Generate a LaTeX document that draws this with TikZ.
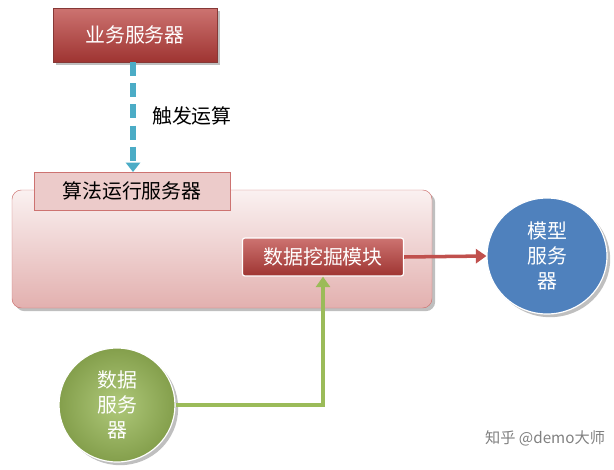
\documentclass[tikz,border=0pt]{standalone}
\usepackage{fontspec}
\setmainfont{Noto Sans CJK SC}
\usetikzlibrary{arrows.meta,shapes.geometric,shadows}
\definecolor{rd}{HTML}{C0504D}
\definecolor{dr}{HTML}{B03A37}
\definecolor{bl}{HTML}{4F81BD}
\definecolor{gr}{HTML}{9BBB59}
\definecolor{cy}{HTML}{4BACC6}
\begin{document}
\begin{tikzpicture}[x=0.03cm,y=-0.03cm,
  txt/.style={font=\fontsize{17}{21}\selectfont},
  redbox/.style={draw=rd!70!black,top color=rd!80,bottom color=dr!90!black,text=white,txt,inner sep=0},
  circ/.style={ellipse,draw=white,line width=1pt,text=white,txt,align=center,inner sep=0,drop shadow}]
\useasboundingbox (0,0) rectangle (614,469);
\node[redbox,minimum width=164*0.03cm,minimum height=54*0.03cm,drop shadow] (biz) at (135,35) {业务服务器};
\node[draw=rd!80,rounded corners=8pt,top color=rd!8,bottom color=rd!45,minimum width=420*0.03cm,minimum height=118*0.03cm,drop shadow] (alg) at (222,249) {};
\node[draw=rd!80,fill=rd!30,txt,minimum width=196*0.03cm,minimum height=38*0.03cm,inner sep=0] (lab) at (132,191) {算法运行服务器};
\node[redbox,draw=white,line width=1pt,rounded corners=2pt,minimum width=161*0.03cm,minimum height=38*0.03cm] (dm) at (323,257) {数据挖掘模块};
\node[circ,fill=bl,minimum width=120*0.03cm,minimum height=116*0.03cm] (model) at (547,256) {模型\\服务\\器};
\node[circ,inner color=gr!80!white,outer color=gr!85!black,minimum width=116*0.03cm,minimum height=114*0.03cm] (data) at (117,405) {数据\\服务\\器};
\coordinate (top) at (133,172);
\draw[cy,line width=4.5pt,dash pattern=on 12pt off 6pt,-{Triangle[length=8pt,width=12pt]}] (biz.south -| top) -- (top);
\node[txt,anchor=west] (trig) at (148,116) {触发运算};
\draw[rd,line width=3pt,-{Triangle[length=9pt,width=12pt]}] (dm.east) -- (model.west);
\draw[gr,line width=3.5pt,-{Triangle[length=9pt,width=12pt]}] (data.east) -| (dm.south);
\node[gray,font=\fontsize{13}{15}\selectfont] (wm) at (545,438) {知乎 @demo大师};
\end{tikzpicture}
\end{document}
